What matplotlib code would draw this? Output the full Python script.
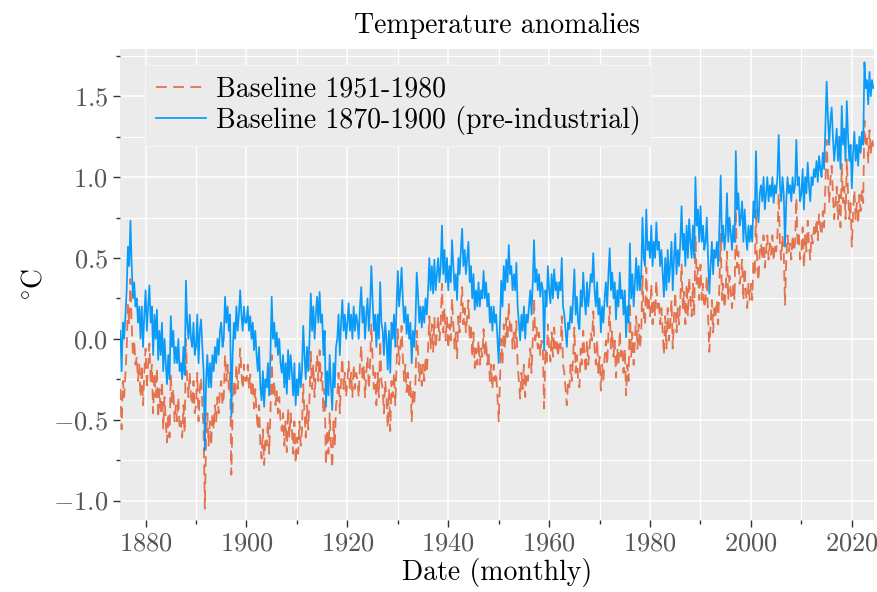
import numpy as np
import matplotlib
matplotlib.use("Agg")
import matplotlib.pyplot as plt
from matplotlib.ticker import MultipleLocator

# Anomalies vs. 1870-1900 (pre-industrial), quarterly (deg C)
pre_1875_1899 = [
    0.05, -0.2, 0.1, 0.0,   0.14, 0.3, 0.57, 0.45,   0.73, 0.45, 0.25, 0.35,
    0.2, 0.25, 0.1, 0.2,    0.0, 0.2, -0.05, 0.15,   0.3, 0.05, 0.2, 0.33,
    0.1, 0.2, -0.1, 0.15,   0.0, 0.18, -0.13, 0.05,  -0.1, 0.1, -0.2, 0.0,
    -0.15, -0.28, -0.1, -0.25,  0.14, -0.05, 0.05, -0.15,  -0.05, -0.15, 0.0, -0.2,
    -0.15, -0.25, -0.05, -0.22,  0.36, 0.1, 0.0, 0.15,  0.0, -0.05, 0.1, -0.1,
    -0.05, 0.15, -0.15, 0.05,  0.12, -0.05, -0.2, -0.69,  -0.25, -0.1, -0.3, -0.15,
    -0.3, -0.1, -0.2, -0.05,  -0.15, 0.0, -0.1, 0.05,  0.1, -0.05, 0.0, 0.26,
    0.1, 0.2, 0.05, 0.15,   -0.48, -0.1, 0.1, 0.0,   0.2, 0.05, 0.15, 0.3,
    0.15, 0.05, 0.2, 0.1,
]
pre_1900_1924 = [
    0.1, 0.2, 0.05, 0.14,   0.0, 0.1, -0.07, 0.05,   -0.1, -0.2, -0.05, -0.3,
    -0.38, -0.2, -0.42, -0.25,  -0.3, -0.15, -0.35, -0.1,  0.26, 0.0, 0.1, -0.05,
    0.04, -0.1, 0.0, -0.15,  -0.21, -0.1, -0.3, -0.15,  -0.34, -0.07, -0.25, -0.1,
    -0.2, -0.35, -0.15, -0.41,  -0.25, -0.35, -0.15, -0.3,  -0.2, 0.08, -0.1, -0.25,
    -0.05, -0.2, 0.0, 0.28,  0.05, 0.2, 0.0, 0.15,   0.26, 0.1, 0.29, 0.1,
    0.15, -0.1, 0.05, -0.42,  -0.2, -0.35, -0.1, -0.3,  -0.44, -0.15, -0.3, -0.05,
    0.0, 0.15, -0.1, 0.1,   0.24, 0.05, 0.15, 0.0,   0.1, 0.22, 0.05, 0.15,
    0.0, 0.2, 0.05, 0.15,   0.1, 0.0, 0.2, 0.32,     0.1, 0.2, 0.0, 0.15,
    0.25, 0.05, 0.2, 0.45,
]
pre_1925_1949 = [
    0.24, 0.05, 0.15, -0.05,  0.15, 0.0, 0.35, 0.1,  0.05, -0.1, 0.1, 0.0,
    -0.19, 0.05, -0.21, 0.1,  0.0, 0.15, -0.05, 0.2,  0.42, 0.2, 0.3, 0.44,
    0.24, 0.1, 0.2, 0.03,   0.15, 0.0, 0.1, -0.15,   0.05, -0.05, 0.1, 0.41,
    0.28, 0.1, 0.2, 0.07,   0.2, 0.1, 0.25, 0.15,    0.3, 0.5, 0.3, 0.45,
    0.28, 0.49, 0.3, 0.4,   0.5, 0.35, 0.45, 0.7,    0.4, 0.55, 0.35, 0.5,
    0.3, 0.45, 0.35, 0.61,  0.45, 0.3, 0.4, 0.24,    0.5, 0.4, 0.55, 0.68,
    0.45, 0.55, 0.4, 0.5,   0.6, 0.35, 0.45, 0.25,   0.4, 0.18, 0.3, 0.2,
    0.35, 0.2, 0.3, 0.25,   0.42, 0.25, 0.35, 0.2,   0.28, 0.1, 0.2, 0.05,
    0.2, 0.1, 0.15, 0.0,
]
pre_1950_1974 = [
    -0.15, 0.1, 0.36, 0.2,  0.45, 0.3, 0.49, 0.35,   0.58, 0.4, 0.45, 0.3,
    0.4, 0.3, 0.47, 0.2,    0.1, -0.01, 0.15, 0.05,  0.2, 0.0, 0.15, 0.1,
    0.2, 0.3, 0.15, 0.35,   0.61, 0.35, 0.43, 0.3,   0.4, 0.26, 0.35, 0.3,
    -0.07, 0.3, 0.2, 0.45,  0.3, 0.22, 0.4, 0.25,    0.43, 0.3, 0.35, 0.25,
    0.35, 0.3, 0.5, 0.2,    0.15, 0.05, -0.05, 0.1,  0.06, 0.2, 0.1, 0.25,
    0.43, 0.15, 0.26, 0.1,  0.06, 0.3, 0.2, 0.41,    0.25, 0.15, 0.35, 0.2,
    0.3, 0.4, 0.35, 0.53,   0.3, 0.2, 0.35, 0.15,    0.25, 0.04, 0.2, 0.1,
    0.25, 0.35, 0.2, 0.4,   0.56, 0.3, 0.41, 0.25,   0.35, 0.12, 0.3, 0.2,
    0.41, 0.25, 0.3, 0.15,
]
pre_1975_1999 = [
    0.3, 0.01, 0.2, 0.1,    0.59, 0.25, 0.4, 0.2,    0.35, 0.5, 0.3, 0.45,
    0.3, 0.4, 0.75, 0.5,    0.45, 0.8, 0.55, 0.6,    0.5, 0.7, 0.45, 0.6,
    0.5, 0.72, 0.55, 0.6,   0.45, 0.55, 0.4, 0.26,   0.5, 0.3, 0.55, 0.35,
    0.45, 0.6, 0.3, 0.5,    0.65, 0.4, 0.55, 0.45,   0.6, 0.82, 0.55, 0.65,
    0.45, 0.7, 0.5, 0.74,   0.6, 0.5, 0.7, 0.5,      1.0, 0.7, 0.8, 0.6,
    0.82, 0.6, 0.7, 0.55,   0.6, 0.75, 0.5, 0.28,    0.45, 0.6, 0.4, 0.55,
    0.5, 0.6, 0.45, 0.7,    1.01, 0.6, 0.7, 0.55,    0.65, 0.9, 0.6, 0.75,
    0.65, 0.55, 0.7, 0.6,   1.16, 0.8, 0.9, 0.7,     0.75, 0.85, 0.6, 0.8,
    0.65, 0.55, 0.7, 0.6,
]
pre_2000_2024 = [
    0.7, 0.6, 0.85, 0.75,   1.16, 0.8, 0.72, 0.9,    0.95, 0.85, 1.0, 0.8,
    0.9, 1.0, 0.85, 0.95,   0.88, 1.0, 0.84, 0.95,   0.9, 1.0, 1.26, 0.95,
    0.85, 1.0, 0.9, 0.57,   0.85, 1.0, 0.9, 0.95,    0.85, 1.0, 0.9, 0.95,
    1.23, 0.95, 1.0, 0.85,  0.9, 1.05, 0.8, 1.0,     0.9, 1.09, 0.95, 0.85,
    1.0, 0.95, 1.05, 1.0,   1.1, 0.97, 1.13, 1.05,   1.0, 1.15, 1.05, 1.3,
    1.59, 1.38, 1.2, 1.35,  1.43, 1.25, 1.1, 1.2,    1.3, 1.1, 1.25, 1.05,
    1.44, 1.2, 1.3, 1.1,    1.47, 1.25, 1.1, 1.2,    0.93, 1.15, 1.28, 1.1,
    1.2, 1.07, 1.25, 1.15,  1.28, 1.2, 1.71, 1.55,   1.6, 1.45, 1.65, 1.5,
    1.6, 1.55,
]

# difference between the two baselines (1951-1980 mean minus 1870-1900 mean)
BASELINE_SHIFT = 0.36

pre_industrial = np.array(pre_1875_1899 + pre_1900_1924 + pre_1925_1949
                          + pre_1950_1974 + pre_1975_1999 + pre_2000_2024)
modern = pre_industrial - BASELINE_SHIFT
dates = 1875 + np.arange(len(pre_industrial)) / 4.0

plt.style.use("ggplot")
plt.rcParams["font.family"] = "cmr10"
plt.rcParams["mathtext.fontset"] = "cm"
plt.rcParams["axes.formatter.use_mathtext"] = True
FS = 20

fig = plt.figure(figsize=(8.78, 5.92), dpi=100)
ax = fig.add_axes([0.1365, 0.1216, 0.8587, 0.7951])
ax.set_facecolor("#EBEBEB")

ax.plot(dates, modern, color="#E3653C", lw=1.3, alpha=0.9, dashes=(6, 3.5),
        label="Baseline 1951-1980", zorder=2)
ax.plot(dates, pre_industrial, color="#0A9BF8", lw=1.25,
        label="Baseline 1870-1900 (pre-industrial)", zorder=3)

ax.set_xlim(1874.9, 2024.35)
ax.set_ylim(-1.12, 1.79)
ax.xaxis.set_major_locator(MultipleLocator(20))
ax.xaxis.set_minor_locator(MultipleLocator(10))
ax.yaxis.set_major_locator(MultipleLocator(0.5))
ax.yaxis.set_minor_locator(MultipleLocator(0.25))
ax.grid(which="major", color="white", lw=1.1)
ax.grid(which="minor", color="white", lw=0.8)
ax.tick_params(which="major", length=5, width=1, color="#333333",
               labelcolor="#555555", labelsize=19)
ax.tick_params(which="minor", length=3, width=1, color="#333333")
for s in ax.spines.values():
    s.set_visible(False)

ax.set_title("Temperature anomalies", fontsize=FS, color="black", pad=12)
ax.set_xlabel("Date (monthly)", fontsize=FS, color="black", labelpad=2)
ax.set_ylabel(r"$^{\circ}$C", fontsize=FS, color="black")

leg = ax.legend(loc="upper left", fontsize=FS, handlelength=1.8,
                labelspacing=0.1, borderpad=0.4, handletextpad=0.35,
                borderaxespad=0, bbox_to_anchor=(0.033, 0.966),
                frameon=True, fancybox=False)
leg.get_frame().set_facecolor("#EBEBEB")
leg.get_frame().set_edgecolor("#F8F8F8")
leg.get_frame().set_alpha(1)
for t in leg.get_texts():
    t.set_color("black")

fig.savefig("out.png", dpi=100)
